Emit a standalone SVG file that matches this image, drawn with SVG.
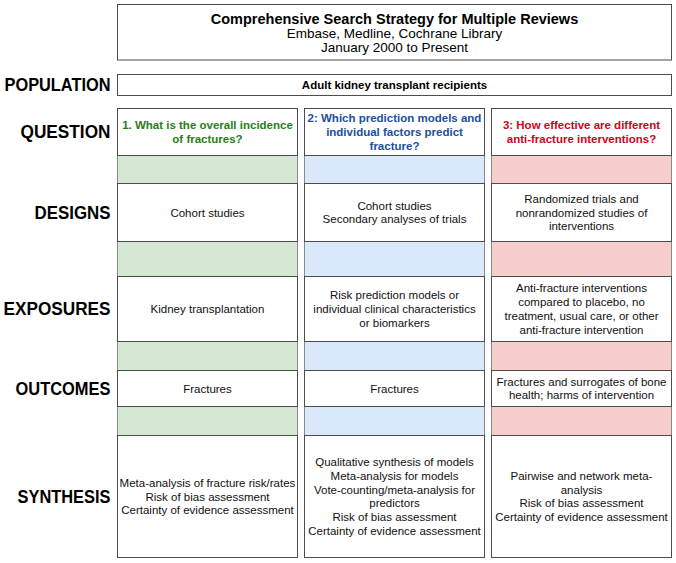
<svg xmlns="http://www.w3.org/2000/svg" width="676" height="563" viewBox="0 0 676 563">
<style>
.box{fill:#fff;stroke:#4d4d4d;stroke-width:1}
.g{fill:#d5e8d4;stroke:#8a8a8a;stroke-width:1}
.b{fill:#dae8fc;stroke:#8a8a8a;stroke-width:1}
.r{fill:#f8cecc;stroke:#8a8a8a;stroke-width:1}
.lbl{font-family:"Liberation Sans",Arial,sans-serif;font-weight:bold;font-size:17.5px;text-anchor:end;fill:#000}
.t{font-family:"Liberation Sans",Arial,sans-serif;font-size:11.5px;text-anchor:middle;fill:#111}
.q{font-family:"Liberation Sans",Arial,sans-serif;font-size:11.5px;font-weight:bold;text-anchor:middle}
.qg{fill:#2a7d1a}.qb{fill:#1c4f9c}.qr{fill:#d0021b}
</style>
<rect width="676" height="563" fill="#fff"/>
<g id="title">
<rect class="box" x="117.5" y="4.5" width="554" height="55.5"/>
<text x="394.5" y="24" style="font-family:'Liberation Sans',Arial,sans-serif;font-weight:bold;font-size:14.5px;text-anchor:middle">Comprehensive Search Strategy for Multiple Reviews</text>
<text x="394.5" y="38" style="font-family:'Liberation Sans',Arial,sans-serif;font-size:13.5px;text-anchor:middle">Embase, Medline, Cochrane Library</text>
<text x="394.5" y="51.5" style="font-family:'Liberation Sans',Arial,sans-serif;font-size:13.5px;text-anchor:middle">January 2000 to Present</text>
</g>
<g id="labels">
<text class="lbl" x="110.5" y="91.3" textLength="106" lengthAdjust="spacingAndGlyphs">POPULATION</text>
<text class="lbl" x="110.5" y="138.3" textLength="90" lengthAdjust="spacingAndGlyphs">QUESTION</text>
<text class="lbl" x="110.5" y="218.8" textLength="76" lengthAdjust="spacingAndGlyphs">DESIGNS</text>
<text class="lbl" x="110.5" y="315.3" textLength="107" lengthAdjust="spacingAndGlyphs">EXPOSURES</text>
<text class="lbl" x="110.5" y="394.8" textLength="95" lengthAdjust="spacingAndGlyphs">OUTCOMES</text>
<text class="lbl" x="110.5" y="502.8" textLength="93" lengthAdjust="spacingAndGlyphs">SYNTHESIS</text>
</g>
<g id="population">
<rect class="box" x="117.5" y="74.5" width="554" height="21"/>
<text class="q" x="394.5" y="89" fill="#000">Adult kidney transplant recipients</text>
</g>
<g id="bands">
<rect class="g" x="117.5" y="155.5" width="180" height="28"/>
<rect class="g" x="117.5" y="241.5" width="180" height="35"/>
<rect class="g" x="117.5" y="341.5" width="180" height="29"/>
<rect class="g" x="117.5" y="406.5" width="180" height="29"/>
<rect class="b" x="304.5" y="155.5" width="180" height="28"/>
<rect class="b" x="304.5" y="241.5" width="180" height="35"/>
<rect class="b" x="304.5" y="341.5" width="180" height="29"/>
<rect class="b" x="304.5" y="406.5" width="180" height="29"/>
<rect class="r" x="491.5" y="155.5" width="180" height="28"/>
<rect class="r" x="491.5" y="241.5" width="180" height="35"/>
<rect class="r" x="491.5" y="341.5" width="180" height="29"/>
<rect class="r" x="491.5" y="406.5" width="180" height="29"/>
</g>
<g id="q1">
<rect class="box" x="117.5" y="108.5" width="180" height="47"/>
<text class="q qg" x="207.5" y="129.1">1. What is the overall incidence<tspan x="207.5" dy="13.8">of fractures?</tspan></text>
</g>
<g id="q2">
<rect class="box" x="304.5" y="108.5" width="180" height="47"/>
<text class="q qb" x="394.5" y="122.2">2: Which prediction models and<tspan x="394.5" dy="13.8">individual factors predict</tspan><tspan x="394.5" dy="13.8">fracture?</tspan></text>
</g>
<g id="q3">
<rect class="box" x="491.5" y="108.5" width="180" height="47"/>
<text class="q qr" x="581.5" y="129.1">3: How effective are different<tspan x="581.5" dy="13.8">anti-fracture interventions?</tspan></text>
</g>
<g id="d1">
<rect class="box" x="117.5" y="183.5" width="180" height="58"/>
<text class="t" x="207.5" y="216.5">Cohort studies</text>
</g>
<g id="d2">
<rect class="box" x="304.5" y="183.5" width="180" height="58"/>
<text class="t" x="394.5" y="209.6">Cohort studies<tspan x="394.5" dy="13.8">Secondary analyses of trials</tspan></text>
</g>
<g id="d3">
<rect class="box" x="491.5" y="183.5" width="180" height="58"/>
<text class="t" x="581.5" y="202.7">Randomized trials and<tspan x="581.5" dy="13.8">nonrandomized studies of</tspan><tspan x="581.5" dy="13.8">interventions</tspan></text>
</g>
<g id="e1">
<rect class="box" x="117.5" y="276.5" width="180" height="65"/>
<text class="t" x="207.5" y="313">Kidney transplantation</text>
</g>
<g id="e2">
<rect class="box" x="304.5" y="276.5" width="180" height="65"/>
<text class="t" x="394.5" y="299.2">Risk prediction models or<tspan x="394.5" dy="13.8">individual clinical characteristics</tspan><tspan x="394.5" dy="13.8">or biomarkers</tspan></text>
</g>
<g id="e3">
<rect class="box" x="491.5" y="276.5" width="180" height="65"/>
<text class="t" x="581.5" y="292.3">Anti-fracture interventions<tspan x="581.5" dy="13.8">compared to placebo, no</tspan><tspan x="581.5" dy="13.8">treatment, usual care, or other</tspan><tspan x="581.5" dy="13.8">anti-fracture intervention</tspan></text>
</g>
<g id="o1">
<rect class="box" x="117.5" y="370.5" width="180" height="36"/>
<text class="t" x="207.5" y="392.5">Fractures</text>
</g>
<g id="o2">
<rect class="box" x="304.5" y="370.5" width="180" height="36"/>
<text class="t" x="394.5" y="392.5">Fractures</text>
</g>
<g id="o3">
<rect class="box" x="491.5" y="370.5" width="180" height="36"/>
<text class="t" x="581.5" y="385.6">Fractures and surrogates of bone<tspan x="581.5" dy="13.8">health; harms of intervention</tspan></text>
</g>
<g id="s1">
<rect class="box" x="117.5" y="435.5" width="180" height="122"/>
<text class="t" x="207.5" y="486.7">Meta-analysis of fracture risk/rates<tspan x="207.5" dy="13.8">Risk of bias assessment</tspan><tspan x="207.5" dy="13.8">Certainty of evidence assessment</tspan></text>
</g>
<g id="s2">
<rect class="box" x="304.5" y="435.5" width="180" height="122"/>
<text class="t" x="394.5" y="466">Qualitative synthesis of models<tspan x="394.5" dy="13.8">Meta-analysis for models</tspan><tspan x="394.5" dy="13.8">Vote-counting/meta-analysis for</tspan><tspan x="394.5" dy="13.8">predictors</tspan><tspan x="394.5" dy="13.8">Risk of bias assessment</tspan><tspan x="394.5" dy="13.8">Certainty of evidence assessment</tspan></text>
</g>
<g id="s3">
<rect class="box" x="491.5" y="435.5" width="180" height="122"/>
<text class="t" x="581.5" y="479.8">Pairwise and network meta-<tspan x="581.5" dy="13.8">analysis</tspan><tspan x="581.5" dy="13.8">Risk of bias assessment</tspan><tspan x="581.5" dy="13.8">Certainty of evidence assessment</tspan></text>
</g>
</svg>
